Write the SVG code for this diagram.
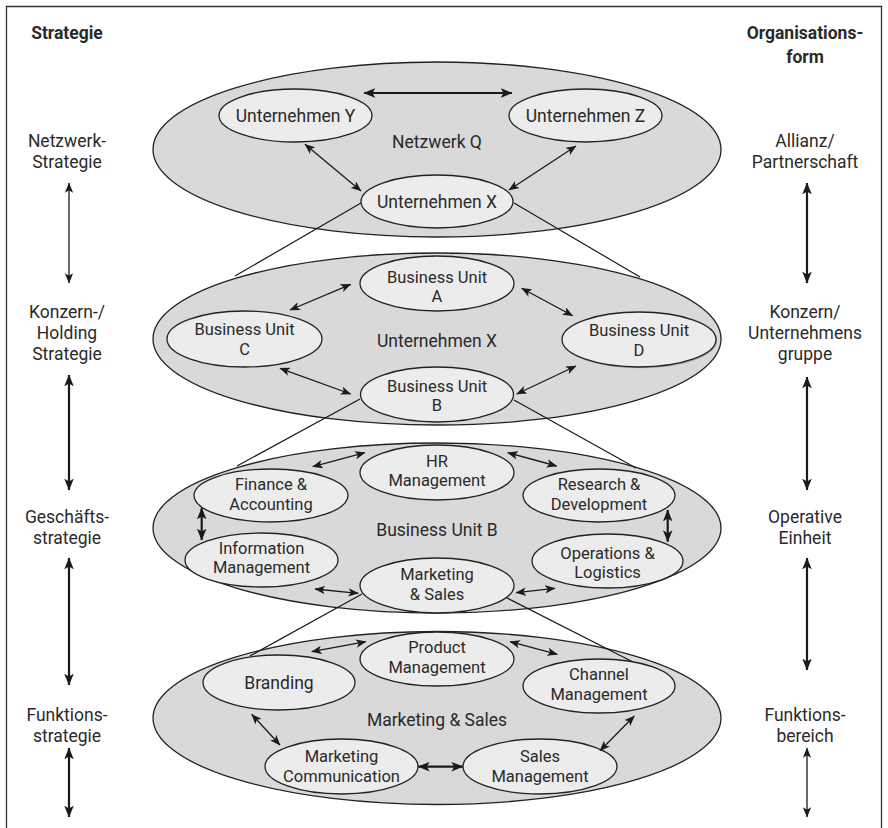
<svg xmlns="http://www.w3.org/2000/svg" width="888" height="828" viewBox="0 0 888 828">
<style>
text{font-family:Roboto,"Liberation Sans",sans-serif;font-size:16.5px;fill:#2a2a2a;text-anchor:middle}
.one{font-size:17.5px}
.big{fill:#d9d9d9;stroke:#222;stroke-width:1.3}
.sm{fill:#ececec;stroke:#222;stroke-width:1.3}
.side{font-size:17.5px}
.hd{font-size:17.5px;font-weight:bold}
.c{fill:none;stroke:#1a1a1a;stroke-width:1.3;marker-start:url(#ah);marker-end:url(#ah)}
.ct{fill:none;stroke:#1a1a1a;stroke-width:2.2;marker-start:url(#ahb);marker-end:url(#ahb)}
.z{fill:none;stroke:#1a1a1a;stroke-width:1.2}
</style>
<defs>
<marker id="ah" viewBox="0 0 10 8" refX="9.5" refY="4" markerWidth="10.5" markerHeight="8.5" markerUnits="userSpaceOnUse" orient="auto-start-reverse"><path d="M0,0 L10,4 L0,8 L2.5,4 z" fill="#1a1a1a"/></marker>
<marker id="ahb" viewBox="0 0 10 8" refX="9.5" refY="4" markerWidth="12" markerHeight="10" markerUnits="userSpaceOnUse" orient="auto-start-reverse"><path d="M0,0 L10,4 L0,8 L2.5,4 z" fill="#1a1a1a"/></marker>
</defs>
<rect width="888" height="828" fill="#fff"/>
<path d="M6.5,828 V6.5 H881.5 V828" fill="none" stroke="#333" stroke-width="1.3"/>

<g id="side-labels">
<text class="hd" x="67" y="39">Strategie</text>
<text class="hd" x="805" y="39">Organisations-</text>
<text class="hd" x="805" y="63">form</text>
<text class="side" x="67" y="147">Netzwerk-</text>
<text class="side" x="67" y="168">Strategie</text>
<text class="side" x="805" y="147">Allianz/</text>
<text class="side" x="805" y="168">Partnerschaft</text>
<text class="side" x="67" y="318">Konzern-/</text>
<text class="side" x="67" y="339">Holding</text>
<text class="side" x="67" y="360">Strategie</text>
<text class="side" x="805" y="318">Konzern/</text>
<text class="side" x="805" y="339">Unternehmens</text>
<text class="side" x="805" y="360">gruppe</text>
<text class="side" x="67" y="523">Geschäfts-</text>
<text class="side" x="67" y="544">strategie</text>
<text class="side" x="805" y="523">Operative</text>
<text class="side" x="805" y="544">Einheit</text>
<text class="side" x="67" y="720.5">Funktions-</text>
<text class="side" x="67" y="741.5">strategie</text>
<text class="side" x="805" y="720.5">Funktions-</text>
<text class="side" x="805" y="741.5">bereich</text>
</g>

<g id="netzwerk-q"><ellipse class="big" cx="437" cy="149.5" rx="284" ry="87.5"/><text class="one" x="437" y="148">Netzwerk Q</text></g>
<g id="unternehmen-x-level"><ellipse class="big" cx="437" cy="339" rx="284" ry="86"/><text class="one" x="437" y="347">Unternehmen X</text></g>
<g id="business-unit-b-level"><ellipse class="big" cx="437" cy="528" rx="284" ry="85"/><text class="one" x="437" y="536">Business Unit B</text></g>
<g id="marketing-sales-level"><ellipse class="big" cx="437" cy="718" rx="284" ry="86.5"/><text class="one" x="437" y="726">Marketing &amp; Sales</text></g>

<g id="zoom-lines">
<path class="z" d="M361,203 L235,276"/>
<path class="z" d="M514,203 L640,277"/>
<path class="z" d="M360,399 L237,466"/>
<path class="z" d="M514,400 L636,468"/>
<path class="z" d="M362,594 L250,656"/>
<path class="z" d="M507,598 L633,662"/>
</g>

<g id="unternehmen-y"><ellipse class="sm" cx="295.5" cy="115.5" rx="76.5" ry="26.5"/><text class="one" x="295.5" y="121.5">Unternehmen Y</text></g>
<g id="unternehmen-z"><ellipse class="sm" cx="585.5" cy="115.5" rx="76.5" ry="26.5"/><text class="one" x="585.5" y="121.5">Unternehmen Z</text></g>
<g id="unternehmen-x"><ellipse class="sm" cx="437" cy="201.5" rx="76" ry="26.5"/><text class="one" x="437" y="208">Unternehmen X</text></g>

<g id="bu-a"><ellipse class="sm" cx="437" cy="283.5" rx="77" ry="27.5"/><text x="437" y="282.8">Business Unit</text><text x="437" y="302.3">A</text></g>
<g id="bu-c"><ellipse class="sm" cx="244.5" cy="339" rx="77.5" ry="28"/><text x="244.5" y="335.3">Business Unit</text><text x="244.5" y="354.8">C</text></g>
<g id="bu-d"><ellipse cx="640.2" cy="340.8" rx="77" ry="27.5" fill="#a8a8a8"/><ellipse class="sm" cx="639" cy="339.5" rx="77" ry="27.5"/><text x="639" y="336.3">Business Unit</text><text x="639" y="355.8">D</text></g>
<g id="bu-b"><ellipse class="sm" cx="437" cy="394.5" rx="76.5" ry="27.5"/><text x="437" y="391.8">Business Unit</text><text x="437" y="411.3">B</text></g>

<g id="hr"><ellipse class="sm" cx="437" cy="472.5" rx="77" ry="27.5"/><text x="437" y="466.8">HR</text><text x="437" y="486.3">Management</text></g>
<g id="finance"><ellipse class="sm" cx="271" cy="495.5" rx="77" ry="26.5"/><text x="271" y="490.3">Finance &amp;</text><text x="271" y="509.8">Accounting</text></g>
<g id="information"><ellipse class="sm" cx="261.5" cy="560" rx="76.5" ry="27"/><text x="261.5" y="553.8">Information</text><text x="261.5" y="573.3">Management</text></g>
<g id="research"><ellipse class="sm" cx="599" cy="495.5" rx="76" ry="26.5"/><text x="599" y="490.3">Research &amp;</text><text x="599" y="509.8">Development</text></g>
<g id="operations"><ellipse class="sm" cx="607.5" cy="561" rx="75.5" ry="27"/><text x="607.5" y="558.8">Operations &amp;</text><text x="607.5" y="578.3">Logistics</text></g>
<g id="marketing-sales"><ellipse class="sm" cx="437" cy="585.5" rx="77" ry="27.5"/><text x="437" y="580.3">Marketing</text><text x="437" y="599.8">&amp; Sales</text></g>

<g id="product"><ellipse class="sm" cx="437" cy="659" rx="77" ry="27"/><text x="437" y="653.3">Product</text><text x="437" y="672.8">Management</text></g>
<g id="branding"><ellipse class="sm" cx="279" cy="682.5" rx="76" ry="27.5"/><text class="one" x="279" y="688.5">Branding</text></g>
<g id="channel"><ellipse class="sm" cx="599" cy="686" rx="76" ry="27"/><text x="599" y="680.3">Channel</text><text x="599" y="699.8">Management</text></g>
<g id="marcom"><ellipse class="sm" cx="341.5" cy="766.5" rx="76.5" ry="27.5"/><text x="341.5" y="762.3">Marketing</text><text x="341.5" y="781.8">Communication</text></g>
<g id="sales"><ellipse class="sm" cx="540" cy="766.5" rx="77" ry="27.5"/><text x="540" y="762.3">Sales</text><text x="540" y="781.8">Management</text></g>

<g id="connectors">
<path class="ct" d="M364,93 L512,93"/>
<path class="c" d="M305,144.3 L361,191"/>
<path class="c" d="M576,146 L509,190"/>
<path class="c" d="M290,310 L350.7,284.3"/>
<path class="c" d="M521.7,288.3 L572.7,315.7"/>
<path class="c" d="M280,368.3 L350.7,394"/>
<path class="c" d="M516.7,394 L576,366"/>
<path class="c" d="M312.7,466.7 L365,452.7"/>
<path class="c" d="M507.7,452.7 L556.7,466"/>
<path class="ct" d="M201.7,508 L201.7,540"/>
<path class="ct" d="M667.7,510 L667.7,541.7"/>
<path class="c" d="M315,589 L358.3,593.3"/>
<path class="c" d="M516,592.7 L555,588.3"/>
<path class="c" d="M311.7,651.7 L366,641.7"/>
<path class="c" d="M510,641.7 L557.3,654.3"/>
<path class="c" d="M251.7,714.3 L280,745"/>
<path class="c" d="M634.3,716 L600,750.7"/>
<path class="ct" d="M418.3,766.7 L462.7,766.7"/>
<path class="c" d="M69,183 L69,283"/>
<path class="ct" d="M69,375 L69,490"/>
<path class="ct" d="M69,558 L69,685"/>
<path class="ct" d="M69,748 L69,817"/>
<path class="ct" d="M807,183 L807,283"/>
<path class="ct" d="M807,377 L807,490"/>
<path class="ct" d="M807,558 L807,670"/>
<path class="c" d="M807,748 L807,817"/>
</g>
</svg>
